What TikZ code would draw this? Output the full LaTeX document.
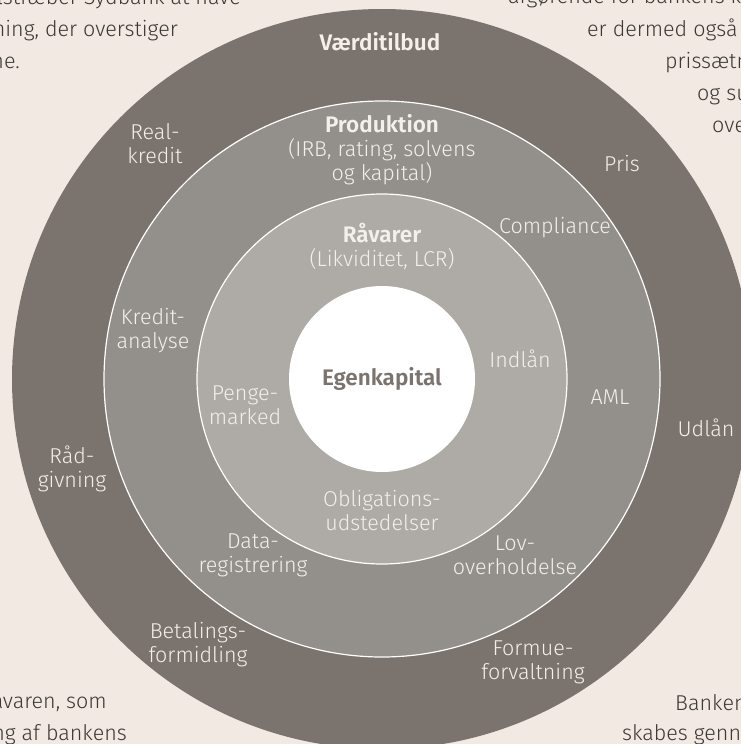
\documentclass[tikz,border=0pt]{standalone}
\usepackage{fontspec}
\setmainfont{Fira Sans Light}[BoldFont={Fira Sans SemiBold}]
\usepackage{tikz}
\definecolor{bg}{HTML}{F2EAE2}
\definecolor{outer}{HTML}{7B736E}
\definecolor{prod}{HTML}{938F8A}
\definecolor{raw}{HTML}{AEAAA6}
\definecolor{lite}{HTML}{F4EFEA}
\definecolor{ink}{HTML}{3C3835}

\begin{document}
\begin{tikzpicture}[x=1pt,y=-1pt]
\tikzset{ring/.style = {shape=circle, inner sep=0pt, draw=white, line width=1.2pt}}
\tikzset{lbl/.style = {text=lite, align=center, inner sep=0pt, font=\fontsize{21.5}{24}\selectfont}}
\tikzset{head/.style = {lbl, font=\fontsize{22.5}{24}\selectfont\bfseries}}
\tikzset{side/.style = {text=ink, inner sep=0pt, font=\fontsize{21.5}{24}\selectfont}}
\useasboundingbox (0,0) rectangle (741,744);
\clip (0,0) rectangle (741,744);
\fill[bg] (0,0) rectangle (741,744);
% rings
\node[ring, draw=none, fill=outer, minimum size=740pt] (vaerdi) at (382,379) {};
\node[ring, fill=prod, minimum size=556pt] (prod) at (vaerdi.center) {};
\node[ring, fill=raw, minimum size=370pt] (raw) at (vaerdi.center) {};
\node[ring, draw=none, fill=white, minimum size=186pt, text=outer,
      font=\fontsize{22.5}{24}\selectfont\bfseries] (egen) at (vaerdi.center) {Egenkapital};
% outer ring
\node[head] (vaerditxt) at (380,42) {Værditilbud};
\node[lbl] (real) at (155,144) {Real-\\kredit};
\node[lbl] (pris) at (622,164) {Pris};
\node[lbl] (udlaan) at (706,428) {Udlån};
\node[lbl] (raad) at (72,469) {Råd-\\givning};
\node[lbl] (betal) at (198,645) {Betalings-\\formidling};
\node[lbl] (formue) at (533,662) {Formue-\\forvaltning};
% production ring
\node[lbl] (prodtxt) at (382,150) {{\fontsize{22.5}{24}\selectfont\bfseries Produktion}\\(IRB, rating, solvens\\og kapital)};
\node[lbl] (compl) at (555,228) {Compliance};
\node[lbl] (kredit) at (153,331) {Kredit-\\analyse};
\node[lbl] (aml) at (610,397) {AML};
\node[lbl] (data) at (253,555) {Data-\\registrering};
\node[lbl] (lov) at (515,555) {Lov-\\overholdelse};
% raw ring
\node[lbl] (rawtxt) at (382,246) {{\fontsize{22.5}{24}\selectfont\bfseries Råvarer}\\(Likviditet, LCR)};
\node[lbl] (indlaan) at (520,359) {Indlån};
\node[lbl] (penge) at (245,405) {Penge-\\marked};
\node[lbl] (oblig) at (382,511) {Obligations-\\udstedelser};
% text round the picture
\node[side, anchor=base east] (tl1) at (241,5) {tilstræber Sydbank at have};
\node[side, anchor=base east] (tl2) at (178,36) {tning, der overstiger};
\node[side, anchor=base east] (tl3) at (20,68) {ne.};
\node[side, anchor=base west] (tr1) at (508,4) {afgørende for bankens ka};
\node[side, anchor=base west] (tr2) at (587,36) {er dermed også b};
\node[side, anchor=base west] (tr3) at (665,68) {prissætn};
\node[side, anchor=base west] (tr4) at (697,100) {og su};
\node[side, anchor=base west] (tr5) at (712,132) {ove};
\node[side, anchor=base east] (bl1) at (107,708) {råvaren, som};
\node[side, anchor=base east] (bl2) at (127,740) {ng af bankens};
\node[side, anchor=base west] (br1) at (675,710) {Banken};
\node[side, anchor=base west] (br2) at (622,740) {skabes genne};
\end{tikzpicture}
\end{document}
